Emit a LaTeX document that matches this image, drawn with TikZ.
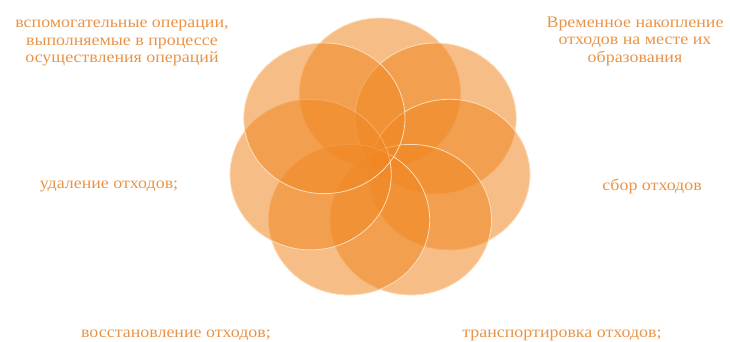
\documentclass[tikz,border=0pt]{standalone}
\usepackage{fontspec}
\setmainfont{Liberation Serif}[FakeStretch=1.12]
\usepackage{tikz}
\usetikzlibrary{calc}
\definecolor{petalfill}{RGB}{240,135,35}
\definecolor{petalline}{RGB}{252,222,185}
\definecolor{labeltext}{RGB}{232,148,72}

\begin{document}
\begin{tikzpicture}[x=1pt, y=1pt,
    petal/.style={fill=petalfill, fill opacity=0.55, draw=petalline, line width=0.8pt},
    lbl/.style={text=labeltext, font=\fontsize{16}{17.5}\selectfont, align=center, inner sep=0pt}]
  \useasboundingbox (0,0) rectangle (730,342);
  \def\D{66.5}
  \def\S{1.07}
  \coordinate (C) at (380,182.2);
  % seven overlapping rings
  \foreach \k in {0,...,6}{
    \pgfmathsetmacro\ang{90-\k*360/7}
    \draw[petal] ($(C)+({\S*\D*cos(\ang)},{\D*sin(\ang)})$) ellipse [x radius=80.6, y radius=75.3];
  }
  \node[lbl] (aux) at (122,299) {вспомогательные операции,\\выполняемые в процессе\\осуществления операций};
  \node[lbl] (store) at (635,301) {Временное накопление\\отходов на месте их\\образования};
  \node[lbl] (remove) at (109,156) {удаление отходов;};
  \node[lbl] (collect) at (652,156) {сбор отходов};
  \node[lbl] (recover) at (176,7) {восстановление отходов;};
  \node[lbl] (transport) at (562,7) {транспортировка отходов;};
\end{tikzpicture}
\end{document}
